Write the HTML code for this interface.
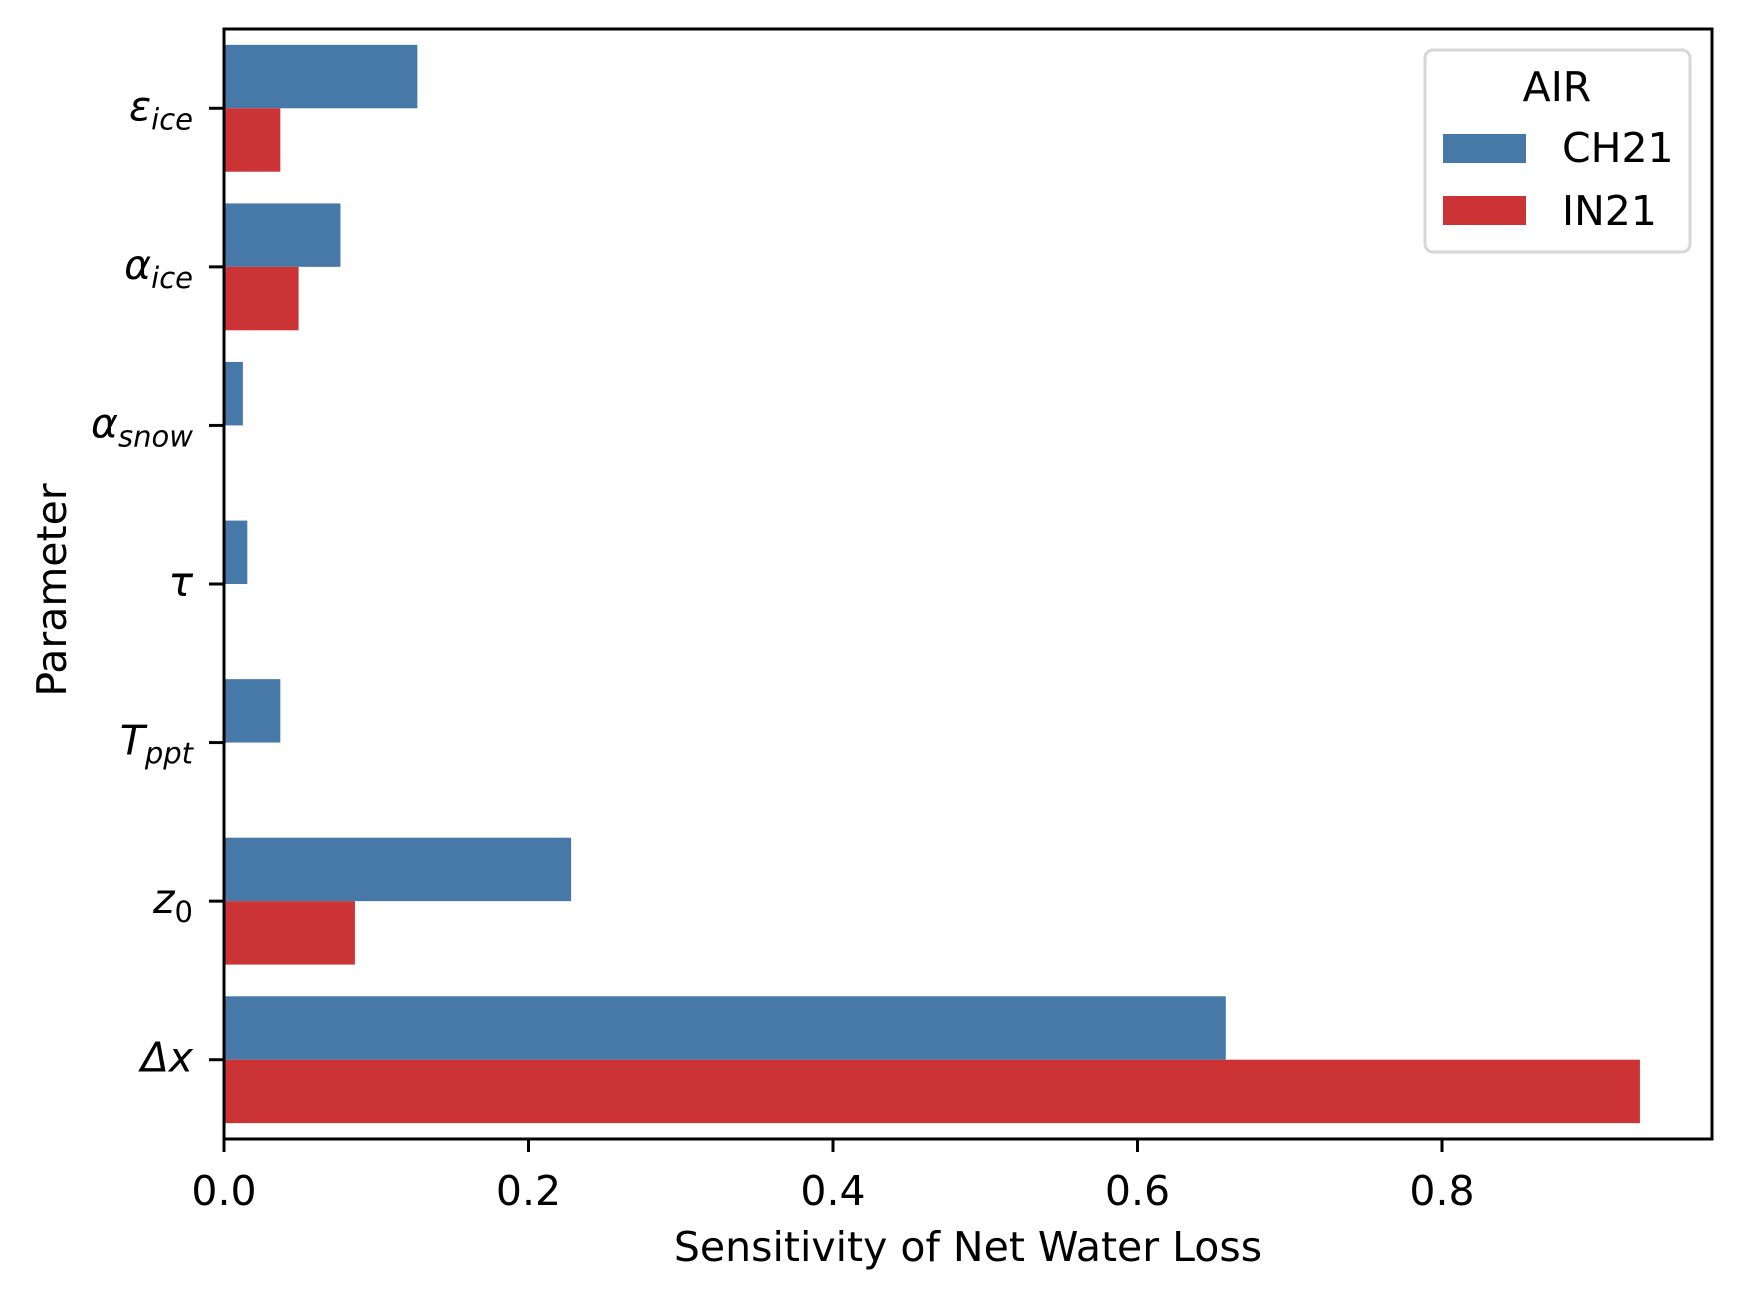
<!DOCTYPE html>
<html><head><meta charset="utf-8"><style>
html,body{margin:0;padding:0;background:#fff;}
svg{display:block;font-family:"DejaVu Sans","Liberation Sans",sans-serif;}
</style></head><body>
<svg id="chart" width="1740" height="1298" viewBox="0 0 1740 1298">
<g id="bars"></g>
<g id="axes"></g>
<text x="52" y="590" font-size="41" text-anchor="middle" transform="rotate(-90 52 590)" dy="14">Parameter</text>
<text x="968" y="1261" font-size="41" text-anchor="middle">Sensitivity of Net Water Loss</text>
<g>
<rect x="1425" y="50" width="265" height="202" rx="8" fill="#fff" fill-opacity="0.8" stroke="#d6d6d6" stroke-width="3"/>
<text x="1557" y="101" font-size="41" text-anchor="middle">AIR</text>
<rect x="1443" y="134" width="83" height="29" fill="#4779a8"/>
<text x="1562" y="162" font-size="41">CH21</text>
<rect x="1443" y="196" width="83" height="29" fill="#cb3335"/>
<text x="1562" y="225" font-size="41">IN21</text>
</g>
</svg>
<script>
const categories = ['eps_ice','alpha_ice','alpha_snow','tau','T_ppt','z0','dx'];
const ch21 = [0.127, 0.0765, 0.0124, 0.0153, 0.037, 0.228, 0.658];
const in21 = [0.037, 0.049, 0, 0, 0, 0.086, 0.930];
const xTicks = [0.0, 0.2, 0.4, 0.6, 0.8];
const xTickLabels = ['0.0','0.2','0.4','0.6','0.8'];
const yLabels = [['ε','ice'],['α','ice'],['α','snow'],['τ',''],['T','ppt'],['z','0'],['Δx','']];

const NS='http://www.w3.org/2000/svg';
const L=224, R=1712, T=29, B=1139;
const xPer=(1442-224)/0.8;
const x=v=>L+v*xPer;
const band=(B-T)/categories.length;
const yc=i=>T+band*(i+0.5);
function mk(tag,attrs,parent){const e=document.createElementNS(NS,tag);for(const k in attrs)e.setAttribute(k,attrs[k]);parent.appendChild(e);return e;}
const gb=document.getElementById('bars'), ga=document.getElementById('axes');
const bh=band*0.4;
categories.forEach((c,i)=>{
  const a=mk('rect',{x:x(0),y:yc(i)-bh,width:x(ch21[i])-x(0),height:bh,fill:'#4779a8'},gb);
  
  
  const b=mk('rect',{x:x(0),y:yc(i),width:x(in21[i])-x(0),height:bh,fill:'#cb3335'},gb);
  
  
  const t=mk('line',{x1:209,x2:L,y1:yc(i),y2:yc(i),stroke:'#000','stroke-width':3},ga);
  
  
  const lb=mk('text',{x:193,y:yc(i)+12,'text-anchor':'end','font-size':41,'font-style':'italic'},ga);
  
  
  const s1=document.createElementNS(NS,'tspan');s1.textContent=yLabels[i][0];lb.appendChild(s1);
  if(yLabels[i][1]){const s2=document.createElementNS(NS,'tspan');s2.setAttribute('font-size','29');s2.setAttribute('dy','9');if(yLabels[i][1]==='0')s2.setAttribute('font-style','normal');s2.textContent=yLabels[i][1];lb.appendChild(s2);}
});
xTicks.forEach((v,i)=>{
  const t=mk('line',{x1:x(v),x2:x(v),y1:B,y2:B+13,stroke:'#000','stroke-width':3},ga);
  
  
  const lb=mk('text',{x:x(v),y:1205,'text-anchor':'middle','font-size':41},ga);
  lb.textContent=xTickLabels[i];
  
  
});
const fr=mk('rect',{x:L,y:T,width:R-L,height:B-T,fill:'none',stroke:'#000','stroke-width':3},ga);


</script>
</body></html>
